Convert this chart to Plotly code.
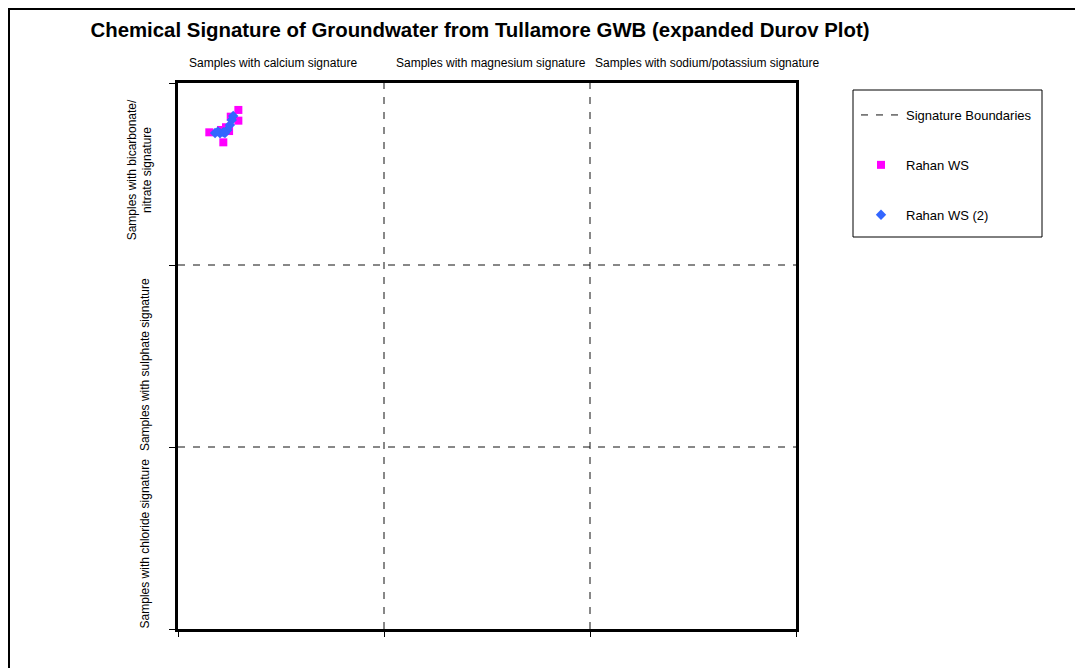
import plotly.graph_objects as go

# Data
rahan_x = [29.3, 25.6, 29.3, 15.2, 22.0, 23.3, 20.9, 24.8]
rahan_y = [285.2, 281.5, 279.3, 272.9, 267.4, 275.7, 274.2, 273.6]
rahan2_x = [26.8, 26.1, 25.2, 23.9, 22.0, 20.4, 19.4, 22.8, 18.0]
rahan2_y = [281.9, 279.7, 276.9, 274.2, 272.9, 272.4, 273.4, 272.5, 272.5]

boundary_vals = [100, 200]
axis_min, axis_max = 0, 300
tick_vals = [0, 100, 200, 300]

col_labels = ["Samples with calcium signature",
              "Samples with magnesium signature",
              "Samples with sodium/potassium signature"]
col_label_x = [46, 152, 257]
row_labels = ["Samples with bicarbonate/<br>nitrate signature",
              "Samples with sulphate signature",
              "Samples with chloride signature"]
row_label_y = [252, 145, 47]

# boundary lines as one trace
bx, by = [], []
for v in boundary_vals:
    bx += [v, v, None]
    by += [axis_min, axis_max, None]
for v in boundary_vals:
    bx += [axis_min, axis_max, None]
    by += [v, v, None]

fig = go.Figure()
fig.add_trace(go.Scatter(x=bx, y=by, mode="lines", name="Signature Boundaries",
                         line=dict(color="#111111", width=1, dash="7px,8px"),
                         legendgroup="a", hoverinfo="skip"))
fig.add_trace(go.Scatter(x=rahan_x, y=rahan_y, mode="markers", name="Rahan WS",
                         marker=dict(symbol="square", size=8, color="#FF00FF"),
                         legendgroup="b"))
fig.add_trace(go.Scatter(x=rahan2_x, y=rahan2_y, mode="markers", name="Rahan WS (2)",
                         marker=dict(symbol="diamond", size=8, color="#3366FF"),
                         legendgroup="c"))

OFF = 8  # page body margin
L, R, T, B = 178 - OFF, 796 - OFF, 83 - OFF, 629 - OFF
W, H = 1083 - OFF, 668 - OFF
pw, ph = R - L, B - T


def px_x(x):
    return (x - OFF - L) / pw


def px_y(y):
    return (B - (y - OFF)) / ph


annotations = []
for t, x in zip(col_labels, col_label_x):
    annotations.append(dict(text=t, x=x, xref="x", y=px_y(63), yref="paper",
                            showarrow=False, xanchor="center", yanchor="middle",
                            font=dict(size=12, color="black")))
row_px = [px_x(140), px_x(145), px_x(145)]
for t, y, xp in zip(row_labels, row_label_y, row_px):
    annotations.append(dict(text=t, x=xp, xref="paper", y=y, yref="y",
                            showarrow=False, textangle=-90, xanchor="center", yanchor="middle",
                            font=dict(size=12, color="black")))

fig.update_layout(
    width=W, height=H,
    margin=dict(l=L, r=W - R, t=T, b=H - B),
    paper_bgcolor="white", plot_bgcolor="white",
    font=dict(family="Liberation Sans, Arial, sans-serif", color="black"),
    title=dict(text="<b>Chemical Signature of Groundwater from Tullamore GWB (expanded Durov Plot)</b>",
               x=(480 - OFF) / W, xanchor="center", y=1 - (30 - OFF) / H, yanchor="middle",
               font=dict(size=20.4, color="black")),
    xaxis=dict(range=[axis_min, axis_max], tickvals=tick_vals, showticklabels=False,
               ticks="outside", ticklen=5, tickcolor="black", showgrid=False, zeroline=False,
               showline=True, linecolor="black", linewidth=2.5, mirror=True),
    yaxis=dict(range=[axis_min, axis_max], tickvals=tick_vals, showticklabels=False,
               ticks="outside", ticklen=6, tickcolor="black", showgrid=False, zeroline=False,
               showline=True, linecolor="black", linewidth=2.5, mirror=True),
    legend=dict(x=px_x(856), xanchor="left", y=px_y(100), yanchor="top",
                borderwidth=0, bgcolor="rgba(0,0,0,0)",
                font=dict(size=13, color="black"), tracegroupgap=30,
                itemwidth=40),
    showlegend=True,
    annotations=annotations,
    shapes=[
        dict(type="rect", xref="paper", yref="paper",
             x0=px_x(9), x1=px_x(1100), y0=px_y(690), y1=px_y(9),
             line=dict(color="black", width=2), layer="below"),
        dict(type="rect", xref="paper", yref="paper",
             x0=px_x(853), x1=px_x(1042), y0=px_y(237), y1=px_y(90),
             line=dict(color="black", width=1), layer="below"),
    ],
)

fig.write_html("out.html")
